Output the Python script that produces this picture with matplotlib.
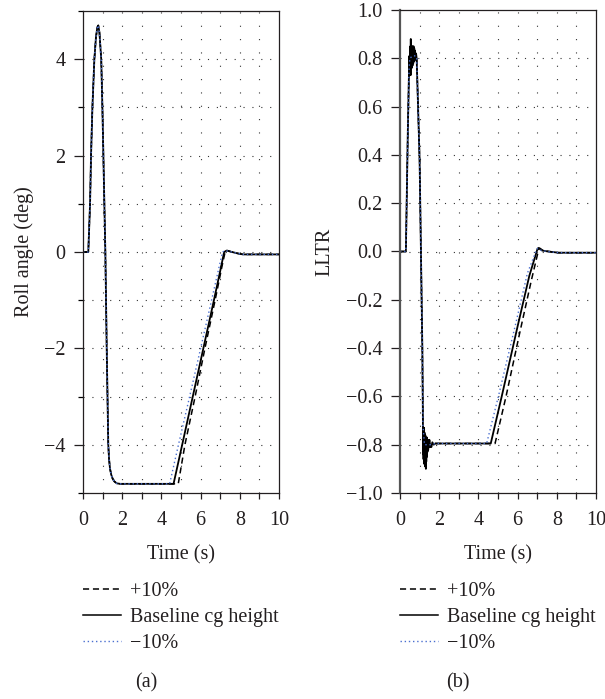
import numpy as np
import matplotlib.pyplot as plt
from matplotlib.lines import Line2D
from matplotlib.ticker import MultipleLocator, FuncFormatter

plt.rcParams['font.family'] = ['Liberation Serif', 'DejaVu Serif']
plt.rcParams['font.size'] = 14.5
txt = '#231f20'
blue = '#4a6fd0'

# ---- (a) roll angle, deg ----
t_roll_base = [0, 0.27, 0.36, 0.41, 0.48, 0.58, 0.66, 0.73, 0.78, 0.84, 0.93, 0.99, 1.04, 1.09,
               1.14, 1.21, 1.29, 1.33, 1.38, 1.44, 1.51, 1.60, 1.72, 1.90, 4.62, 5.06, 5.60,
               6.14, 6.68, 7.05, 7.20, 7.33, 7.60, 7.90, 8.16, 10]
roll_base = [0, 0, 1.0, 2.0, 3.0, 4.0, 4.45, 4.66, 4.70, 4.55, 4.0, 3.0, 2.0, 1.0,
             0, -2.0, -4.0, -4.3, -4.5, -4.62, -4.7, -4.76, -4.8, -4.81, -4.81, -4.0, -3.0,
             -2.0, -1.0, -0.30, 0.0, 0.03, 0.0, -0.03, -0.05, -0.05]
t_roll_plus = [0, 0.27, 0.36, 0.41, 0.48, 0.58, 0.66, 0.73, 0.78, 0.84, 0.93, 0.99, 1.04, 1.09,
               1.14, 1.21, 1.29, 1.33, 1.38, 1.44, 1.51, 1.60, 1.72, 1.90, 4.86, 5.20, 5.72,
               6.22, 6.74, 7.10, 7.25, 7.37, 7.60, 7.90, 8.16, 10]
roll_plus = [0, 0, 1.0, 2.0, 3.0, 4.0, 4.45, 4.66, 4.70, 4.55, 4.0, 3.0, 2.0, 1.0,
             0, -2.0, -4.0, -4.3, -4.5, -4.62, -4.7, -4.76, -4.8, -4.81, -4.81, -4.0, -3.0,
             -2.0, -1.0, -0.28, 0.0, 0.03, 0.0, -0.03, -0.05, -0.05]
t_roll_minus = [0, 0.27, 0.36, 0.41, 0.48, 0.58, 0.66, 0.73, 0.78, 0.84, 0.93, 0.99, 1.04, 1.09,
                1.14, 1.21, 1.29, 1.33, 1.38, 1.44, 1.51, 1.60, 1.72, 1.90, 4.42, 4.87, 5.44,
                6.00, 6.56, 6.96, 7.12, 7.26, 7.60, 7.90, 8.16, 10]
roll_minus = [0, 0, 1.0, 2.0, 3.0, 4.0, 4.45, 4.66, 4.70, 4.55, 4.0, 3.0, 2.0, 1.0,
              0, -2.0, -4.0, -4.3, -4.5, -4.62, -4.7, -4.76, -4.8, -4.81, -4.81, -4.0, -3.0,
              -2.0, -1.0, -0.28, 0.0, 0.03, 0.0, -0.03, -0.05, -0.05]

# ---- (b) LLTR ----
t_lltr_base = [0, 0.30, 0.40, 0.46, 0.48, 0.50, 0.51, 0.52, 0.53, 0.54, 0.55, 0.56, 0.57, 0.58,
               0.59, 0.60, 0.61, 0.62, 0.63, 0.64, 0.65, 0.66, 0.67, 0.68, 0.69, 0.70, 0.71,
               0.72, 0.73, 0.74, 0.75, 0.76, 0.77, 0.78, 0.79, 0.80, 0.82, 0.85, 1.00, 1.14,
               1.16, 1.17, 1.18, 1.19, 1.20, 1.21, 1.22, 1.23, 1.24, 1.25, 1.26, 1.27, 1.28,
               1.29, 1.30, 1.31, 1.32, 1.33, 1.34, 1.35, 1.36, 1.37, 1.38, 1.39, 1.40, 1.42,
               1.44, 1.46, 1.48, 1.50, 1.53, 1.56, 1.60, 1.65, 1.72, 1.80, 2.2, 4.63, 5.19,
               6.0, 6.6, 7.02, 7.08, 7.25, 7.55, 8.1, 10]
lltr_base = [0, 0, 0.50, 0.75, 0.81, 0.74, 0.84, 0.77, 0.85, 0.73, 0.88, 0.76, 0.84, 0.78,
             0.85, 0.76, 0.83, 0.79, 0.85, 0.77, 0.84, 0.79, 0.83, 0.78, 0.85, 0.79, 0.83,
             0.80, 0.84, 0.79, 0.83, 0.80, 0.83, 0.81, 0.82, 0.81, 0.82, 0.80, 0.38, -0.40,
             -0.60, -0.72, -0.84, -0.74, -0.86, -0.76, -0.82, -0.73, -0.88, -0.75, -0.85,
             -0.78, -0.89, -0.76, -0.84, -0.79, -0.90, -0.77, -0.87, -0.79, -0.84, -0.77,
             -0.85, -0.79, -0.83, -0.78, -0.82, -0.79, -0.81, -0.78, -0.81, -0.80, -0.81,
             -0.79, -0.80, -0.795, -0.795, -0.795, -0.60, -0.31, -0.10, 0.012, 0.015, 0.004,
             0.0, -0.005, -0.005]
t_lltr_plus = [0, 0.30, 0.40, 0.46, 0.50, 0.65, 0.80, 0.85, 1.00, 1.14, 1.17, 1.25, 1.40, 1.60,
               1.80, 4.85, 5.41, 6.1, 6.7, 7.08, 7.14, 7.30, 7.60, 8.1, 10]
lltr_plus = [0, 0, 0.50, 0.75, 0.80, 0.81, 0.81, 0.80, 0.38, -0.40, -0.72, -0.80, -0.80, -0.80,
             -0.795, -0.795, -0.60, -0.34, -0.12, 0.010, 0.013, 0.004, 0.0, -0.005, -0.005]
t_lltr_minus = [0, 0.30, 0.40, 0.46, 0.50, 0.65, 0.80, 0.85, 1.00, 1.14, 1.17, 1.25, 1.40, 1.60,
                1.80, 4.42, 5.02, 5.9, 6.5, 6.98, 7.04, 7.22, 7.50, 8.1, 10]
lltr_minus = [0, 0, 0.50, 0.75, 0.80, 0.81, 0.81, 0.80, 0.38, -0.40, -0.72, -0.80, -0.80, -0.80,
              -0.795, -0.795, -0.60, -0.30, -0.09, 0.010, 0.013, 0.004, 0.0, -0.005, -0.005]

labels = ['+10%', 'Baseline cg height', '\u221210%']

fig = plt.figure(figsize=(6.05, 6.99), dpi=100)
W, H = 605., 699.
ax1 = fig.add_axes([83 / W, 1 - 493 / H, 196 / W, 482 / H])
ax2 = fig.add_axes([400 / W, 1 - 493 / H, 196 / W, 483 / H])


def style(ax, ystep, ymaj, ymin_loc):
    ax.set_xlim(0, 10)
    ax.xaxis.set_major_locator(MultipleLocator(2))
    ax.xaxis.set_minor_locator(MultipleLocator(1))
    ax.yaxis.set_major_locator(MultipleLocator(ymaj))
    if ymin_loc:
        ax.yaxis.set_minor_locator(MultipleLocator(ymin_loc))
    ax.tick_params(axis='x', which='both', direction='out', length=4, width=0.9,
                   pad=9, colors=txt)
    ax.tick_params(axis='y', which='major', direction='out', length=6.5, width=0.9,
                   pad=6, colors=txt)
    ax.tick_params(axis='y', which='minor', direction='out', length=3.6, width=0.9)
    for sp in ax.spines.values():
        sp.set_linewidth(0.9)
        sp.set_color(txt)
    # sparse dotted grid every 1 s and every ystep
    for xv in range(1, 10):
        ax.axvline(xv, color='#333333', lw=0.8, ls=(0, (1, 11)), zorder=0)
    lo, hi = ax.get_ylim()
    for yv in np.arange(lo + ystep, hi - ystep / 2, ystep):
        ax.axhline(yv, color='#333333', lw=0.8, ls=(0, (1, 7)), zorder=0)
    ax.set_xlabel('Time (s)', color=txt, labelpad=11)


ax1.plot(t_roll_plus, roll_plus, color='black', ls=(0, (4, 2.5)), lw=1.1)
ax1.plot(t_roll_base, roll_base, color='black', lw=1.3)
ax1.plot(t_roll_minus, roll_minus, color=blue, ls=(0, (1, 2)), lw=1.0)
ax1.set_ylim(-5, 5)
style(ax1, 1, 2, 1)
ax1.set_ylabel('Roll angle (deg)', color=txt)
ax1.yaxis.set_label_coords(-0.25, 0.5)

ax2.plot(t_lltr_plus, lltr_plus, color='black', ls=(0, (4, 2.5)), lw=1.1)
ax2.plot(t_lltr_base, lltr_base, color='black', lw=1.3)
ax2.plot(t_lltr_minus, lltr_minus, color=blue, ls=(0, (1, 2)), lw=1.0)
ax2.set_ylim(-1, 1)
style(ax2, 0.2, 0.2, None)
ax2.yaxis.set_major_formatter(FuncFormatter(lambda v, p: f'{v:.1f}'.replace('-', '\u2212')))
ax2.spines['left'].set_linewidth(1.6)
ax2.spines['left'].set_color('#555555')
ax2.set_ylabel('LLTR', color=txt)
ax2.yaxis.set_label_coords(-0.335, 0.5)

handles = [Line2D([], [], color='black', ls=(0, (4, 2.5)), lw=1.1),
           Line2D([], [], color='black', lw=1.1),
           Line2D([], [], color=blue, ls=(0, (1, 2)), lw=1.0)]
for x0, tag, tx in [(83, '(a)', 146), (400, '(b)', 458)]:
    fig.legend(handles, labels, loc='upper left', bbox_to_anchor=(x0 / W, 1 - 582 / H),
               frameon=False, borderpad=0, borderaxespad=0, handlelength=1.9,
               handletextpad=0.45, labelspacing=0.33, labelcolor=txt)
    fig.text(tx / W, 1 - 683 / H, tag, ha='center', va='center', color=txt)

fig.savefig('out.png', dpi=100)
